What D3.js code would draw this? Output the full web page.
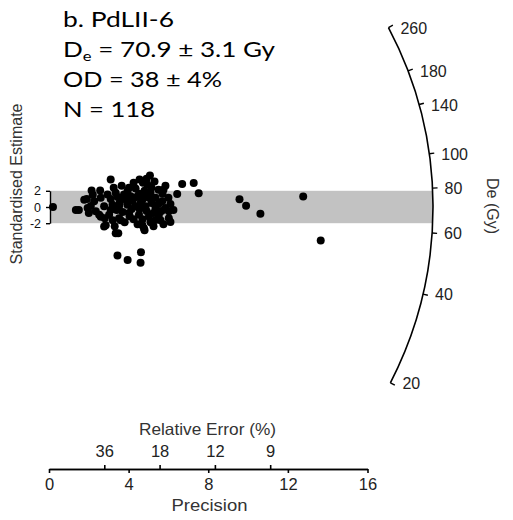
<!DOCTYPE html>
<html>
<head>
<meta charset="utf-8">
<script src="https://cdn.jsdelivr.net/npm/d3@7"></script>
<style>
  body { margin: 0; background: #fff; }
  svg text { font-family: "Liberation Sans", Arial, sans-serif; }
</style>
</head>
<body>
<div id="chart"></div>
<script>
// radial plot of single-grain De values, sample PdLII-6
const centralDe = 70.9;

// precision (1/relative error) of each aliquot
const precision = [
  0.20, 1.35, 1.50, 1.90, 2.14, 2.57, 3.10, 3.35, 3.48, 3.44,
  3.95, 4.62, 4.60, 5.07, 4.80, 5.30, 5.85, 6.69, 7.27, 7.52,
  6.44, 6.10, 6.25, 6.00, 9.57, 9.90, 10.62, 12.77, 13.65, 4.72,
  4.94, 4.02, 4.35, 2.94, 3.35, 3.77, 3.60, 4.10, 4.52, 4.69,
  5.02, 5.35, 5.69, 3.19, 3.52, 3.94, 4.35, 4.85, 5.35, 5.85,
  3.02, 3.52, 4.02, 4.52, 5.02, 5.52, 6.02, 4.77, 5.35, 6.02,
  2.85, 1.77, 1.94, 2.27, 2.60, 2.35, 2.77, 2.80, 2.77, 2.10,
  2.52, 4.69, 3.60, 2.60, 3.10, 3.25, 3.65, 4.25, 4.55, 4.90,
  5.15, 5.50, 5.70, 3.85, 4.20, 4.60, 5.15, 5.50, 3.40, 3.70,
  4.15, 4.55, 4.90, 5.25, 5.65, 3.20, 3.80, 4.25, 4.70, 5.10,
  5.60, 3.95, 4.80, 4.40, 3.55, 4.05, 3.10, 2.20, 2.00, 3.30,
  4.45, 5.25, 5.75, 6.10, 4.85, 3.45, 5.75, 5.10
];

// standardised estimate of each aliquot
const stdEstimate = [
  0.00, -0.38, -0.38, 1.00, 2.04, 2.04, 3.38, -3.25, -3.25, -6.00,
  -6.54, -5.59, -6.88, 3.88, -2.88, 3.16, 2.63, 2.84, 2.96, 1.71,
  1.59, -1.84, -0.38, 1.13, 0.96, 0.16, -0.84, 1.29, -4.13, 3.00,
  2.79, 2.38, 2.29, 1.54, 1.75, 1.54, 0.91, 1.34, 1.63, 0.91,
  1.13, 1.13, 0.71, 0.29, 0.09, 0.29, 0.09, 0.09, -0.13, -0.13,
  -0.96, -1.38, -0.75, -0.96, -1.16, -0.96, -0.54, -2.63, -1.59, -1.38,
  -2.25, 0.91, -0.13, 0.71, 1.13, -0.54, 0.09, -1.38, -2.41, 0.13,
  -0.96, -2.25, -1.63, -1.21, -0.38, 2.38, 2.63, 3.00, 3.38, 3.50,
  2.38, 2.13, 1.63, 1.00, 0.75, 0.50, 0.50, 0.38, -0.38, -0.63,
  -0.25, -0.25, -0.50, -0.75, -0.50, -1.63, -1.88, -1.50, -1.50, -1.88,
  -1.63, 2.00, 2.00, 1.25, 0.50, -1.13, 1.00, 1.50, -0.75, -2.38,
  -2.13, -2.38, -2.13, 0.38, 1.50, 1.25, 2.13, 1.75
];

const arcTicks = [20, 40, 60, 80, 100, 140, 180, 260];
const precisionTicks = [0, 4, 8, 12, 16];
const relErrorTicks = [36, 18, 12, 9];
const yTicks = [-2, 0, 2];

const headerLines = [
  { text: "b. PdLII-6" },
  { text: "D", sub: "e", rest: " = 70.9 \u00b1 3.1 Gy" },
  { text: "OD = 38 \u00b1 4%" },
  { text: "N = 118" }
];
const headerWidths = [111, 212, 159, 92];

const points = precision.map((p, i) => ({ p: p, z: stdEstimate[i] }));

const W = 513, H = 520;
const svg = d3.select("#chart").append("svg")
    .attr("width", W)
    .attr("height", H);

const x = d3.scaleLinear().domain([0, 16]).range([49, 367.5]);
const y = d3.scaleLinear().domain([-2, 2]).range([223.2, 190.8]);

const ox = x(0), oy = y(0);
const R = 384;

// angle of the ray for a given De (log scale, relative to the central value)
function deAngle(d) {
  const s = Math.log(d) - Math.log(centralDe);
  return Math.atan2(y(s) - y(0), x(1) - x(0));
}

// +-2 band, cut off at the arc
svg.append("clipPath").attr("id", "arcClip")
  .append("circle").attr("cx", ox).attr("cy", oy).attr("r", R);

svg.append("rect")
    .attr("x", ox + 1)
    .attr("y", y(2))
    .attr("width", R)
    .attr("height", y(-2) - y(2))
    .attr("fill", "#c2c2c2")
    .attr("clip-path", "url(#arcClip)");

// points
svg.append("g").selectAll("circle")
  .data(points)
  .join("circle")
    .attr("cx", d => x(d.p))
    .attr("cy", d => y(d.z))
    .attr("r", 4)
    .attr("fill", "#000");

// y axis (standardised estimate)
const yAxis = svg.append("g")
    .attr("transform", `translate(${ox + 1},0)`)
    .call(d3.axisLeft(y).tickValues(yTicks).tickSize(4).tickSizeOuter(0)
      .tickPadding(5).tickFormat(d => String(d)));
yAxis.selectAll("path, line").attr("stroke", "#000").attr("stroke-width", 1.4);
yAxis.selectAll("text").style("font-size", "12.5px").attr("fill", "#111");

svg.append("text")
    .attr("transform", `translate(22,184) rotate(-90)`)
    .attr("text-anchor", "middle")
    .style("font-size", "16px")
    .attr("fill", "#333")
    .text("Standardised Estimate");

// De arc
const a0 = deAngle(arcTicks[arcTicks.length - 1]);
const a1 = deAngle(arcTicks[0]);
const arcPath = d3.path();
arcPath.moveTo(ox + R * Math.cos(a0), oy + R * Math.sin(a0));
arcPath.arc(ox, oy, R, a0, a1);
svg.append("path")
    .attr("d", arcPath.toString())
    .attr("fill", "none")
    .attr("stroke", "#000")
    .attr("stroke-width", 1.6);

const arcG = svg.append("g");
arcTicks.forEach(d => {
  const a = deAngle(d);
  const px = ox + R * Math.cos(a), py = oy + R * Math.sin(a);
  arcG.append("line")
      .attr("x1", px).attr("y1", py)
      .attr("x2", ox + (R + 5) * Math.cos(a))
      .attr("y2", oy + (R + 5) * Math.sin(a))
      .attr("stroke", "#000")
      .attr("stroke-width", 1.4);
  arcG.append("text")
      .attr("x", px + 12)
      .attr("y", py + 2)
      .attr("dominant-baseline", "middle")
      .style("font-size", "16px")
      .attr("fill", "#222")
      .text(d);
});

svg.append("text")
    .attr("transform", `translate(487,206) rotate(90)`)
    .attr("text-anchor", "middle")
    .style("font-size", "16px")
    .attr("fill", "#333")
    .text("De (Gy)");

// precision and relative error axes
const axisY = 469;
const precAxis = svg.append("g")
    .attr("transform", `translate(0,${axisY})`)
    .call(d3.axisBottom(x).tickValues(precisionTicks).tickSize(4)
      .tickSizeOuter(0).tickPadding(5));
const reAxis = svg.append("g")
    .attr("transform", `translate(0,${axisY})`)
    .call(d3.axisTop(x).tickValues(relErrorTicks.map(r => 100 / r)).tickSize(4)
      .tickSizeOuter(0).tickPadding(8).tickFormat(p => Math.round(100 / p)));
[precAxis, reAxis].forEach(g => {
  g.selectAll("path, line").attr("stroke", "#000").attr("stroke-width", 1.6);
  g.selectAll("text").style("font-size", "16.5px").attr("fill", "#222");
});

svg.append("text")
    .attr("x", 139)
    .attr("y", 435)
    .attr("textLength", 137)
    .attr("lengthAdjust", "spacingAndGlyphs")
    .style("font-size", "16.5px")
    .attr("fill", "#333")
    .text("Relative Error (%)");

svg.append("text")
    .attr("x", 171.5)
    .attr("y", 511)
    .attr("textLength", 76)
    .attr("lengthAdjust", "spacingAndGlyphs")
    .style("font-size", "16.5px")
    .attr("fill", "#333")
    .text("Precision");

// sample summary, top left
const header = svg.append("g").attr("fill", "#000");
headerLines.forEach((ln, i) => {
  const t = header.append("text")
      .attr("x", 63)
      .attr("y", 27 + i * 30)
      .attr("textLength", headerWidths[i])
      .attr("lengthAdjust", "spacingAndGlyphs")
      .style("font-family", "Lato, 'Open Sans', sans-serif")
      .style("font-size", "22px");
  t.append("tspan").text(ln.text);
  if (ln.sub) {
    t.append("tspan").attr("dy", 4).style("font-size", "14px").text(ln.sub);
    t.append("tspan").attr("dy", -4).text(ln.rest);
  }
});
</script>
</body>
</html>
